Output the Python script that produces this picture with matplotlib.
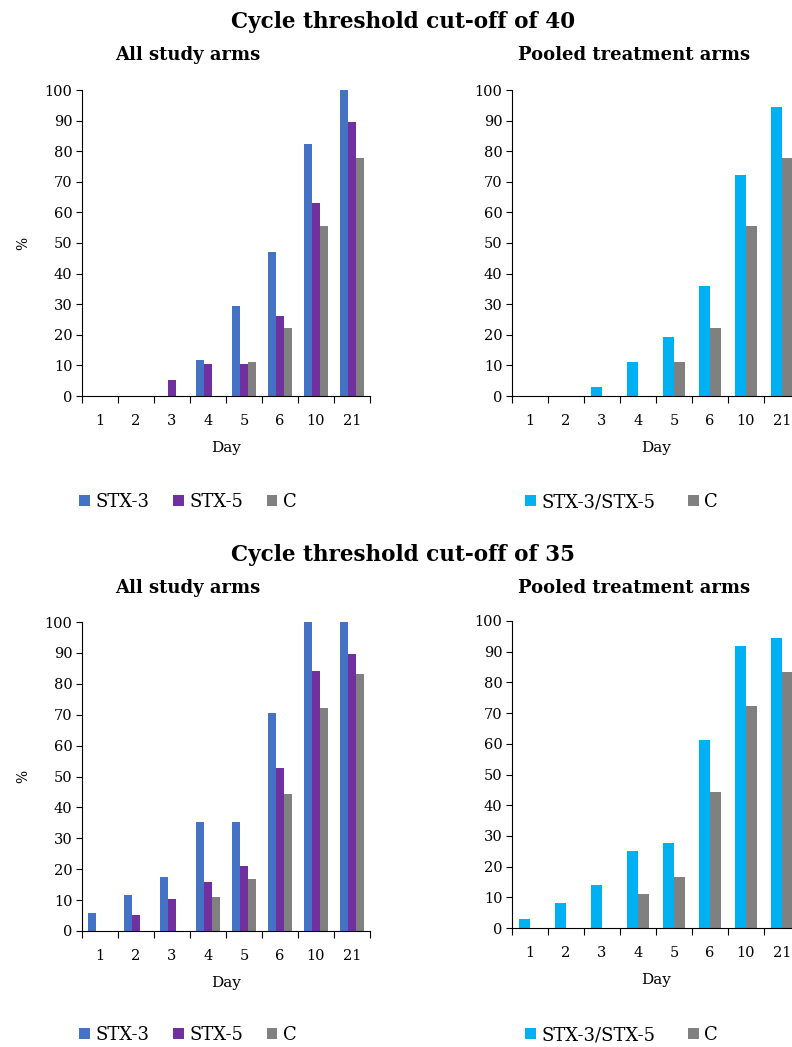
import numpy as np
import matplotlib.pyplot as plt
from matplotlib.patches import Patch

days = ["1", "2", "3", "4", "5", "6", "10", "21"]

# Ct cut-off 40
stx3_40 = [0, 0, 0, 11.8, 29.4, 47.1, 82.4, 100]
stx5_40 = [0, 0, 5.3, 10.5, 10.5, 26.3, 63.2, 89.5]
c_40 = [0, 0, 0, 0, 11.1, 22.2, 55.6, 77.8]
pooled_40 = [0, 0, 2.8, 11.1, 19.4, 36.1, 72.2, 94.4]

# Ct cut-off 35
stx3_35 = [5.9, 11.8, 17.6, 35.3, 35.3, 70.6, 100, 100]
stx5_35 = [0, 5.3, 10.5, 15.8, 21.1, 52.6, 84.2, 89.5]
c_35 = [0, 0, 0, 11.1, 16.7, 44.4, 72.2, 83.3]
pooled_35 = [2.8, 8.3, 13.9, 25.0, 27.8, 61.1, 91.7, 94.4]

blue = "#4472C4"
purple = "#7030A0"
grey = "#808080"
cyan = "#00B0F0"

W, H = 792, 1047
fig = plt.figure(figsize=(W / 100, H / 100), dpi=100)
plt.rcParams['font.family'] = ['DejaVu Serif']


def px_axes(x0, y0, x1, y1):
    # pixel box (top-left origin) -> figure axes
    return fig.add_axes([x0 / W, 1 - y1 / H, (x1 - x0) / W, (y1 - y0) / H])


def style(ax, ylabel=True):
    ax.set_xlim(0, 8)
    ax.set_ylim(0, 100)
    ax.set_yticks(range(0, 101, 10))
    ax.set_xticks(range(0, 9))
    ax.set_xticklabels([])
    ax.set_xticks(np.arange(8) + 0.5, minor=True)
    ax.set_xticklabels(days, minor=True)
    ax.tick_params(axis="x", which="minor", length=0, pad=13, labelsize=10.5)
    ax.tick_params(axis="x", which="major", length=5, direction="out")
    ax.tick_params(axis="y", length=4, labelsize=10.5, pad=3)
    for s in ["top", "right"]:
        ax.spines[s].set_visible(False)
    ax.set_xlabel("Day", fontsize=11, labelpad=9)
    if ylabel:
        ax.set_ylabel("%", fontsize=10, labelpad=10)


def three_bars(ax, a, b, c):
    x = np.arange(8) + 0.5
    w = 0.217
    ax.bar(x - w, a, w, color=blue)
    ax.bar(x, b, w, color=purple)
    ax.bar(x + w, c, w, color=grey)


def two_bars(ax, a, c):
    x = np.arange(8) + 0.5
    w = 0.3
    ax.bar(x - w / 2, a, w, color=cyan)
    ax.bar(x + w / 2, c, w, color=grey)


def legend(labels, colors, x, y, spacing):
    h = [Patch(facecolor=col) for col in colors]
    fig.legend(h, labels, loc="center left", bbox_to_anchor=(x / W, 1 - y / H),
               ncol=len(labels), frameon=False, fontsize=13,
               handlelength=0.6, handleheight=0.6, handletextpad=0.3,
               columnspacing=spacing, borderaxespad=0)


# top block
fig.text(403 / W, 1 - 22 / H, "Cycle threshold cut-off of 40", ha="center", va="center",
         fontsize=15.5, fontweight="bold")
fig.text(188 / W, 1 - 55 / H, "All study arms", ha="center", va="center",
         fontsize=13, fontweight="bold")
fig.text(634 / W, 1 - 55 / H, "Pooled treatment arms", ha="center", va="center",
         fontsize=13, fontweight="bold")

ax1 = px_axes(82, 90, 370, 396)
three_bars(ax1, stx3_40, stx5_40, c_40)
style(ax1)

ax2 = px_axes(512, 90, 800, 396)
two_bars(ax2, pooled_40, c_40)
style(ax2, ylabel=False)

legend(["STX-3", "STX-5", "C"], [blue, purple, grey], 72, 502, 1.3)
legend(["STX-3/STX-5", "C"], [cyan, grey], 518, 502, 1.8)

# bottom block
fig.text(403 / W, 1 - 555 / H, "Cycle threshold cut-off of 35", ha="center", va="center",
         fontsize=15.5, fontweight="bold")
fig.text(188 / W, 1 - 588 / H, "All study arms", ha="center", va="center",
         fontsize=13, fontweight="bold")
fig.text(634 / W, 1 - 588 / H, "Pooled treatment arms", ha="center", va="center",
         fontsize=13, fontweight="bold")

ax3 = px_axes(82, 622, 370, 931)
three_bars(ax3, stx3_35, stx5_35, c_35)
style(ax3)

ax4 = px_axes(512, 621, 800, 928)
two_bars(ax4, pooled_35, c_35)
style(ax4, ylabel=False)

legend(["STX-3", "STX-5", "C"], [blue, purple, grey], 72, 1035, 1.3)
legend(["STX-3/STX-5", "C"], [cyan, grey], 518, 1035, 1.8)

fig.savefig("out.png", dpi=100)
